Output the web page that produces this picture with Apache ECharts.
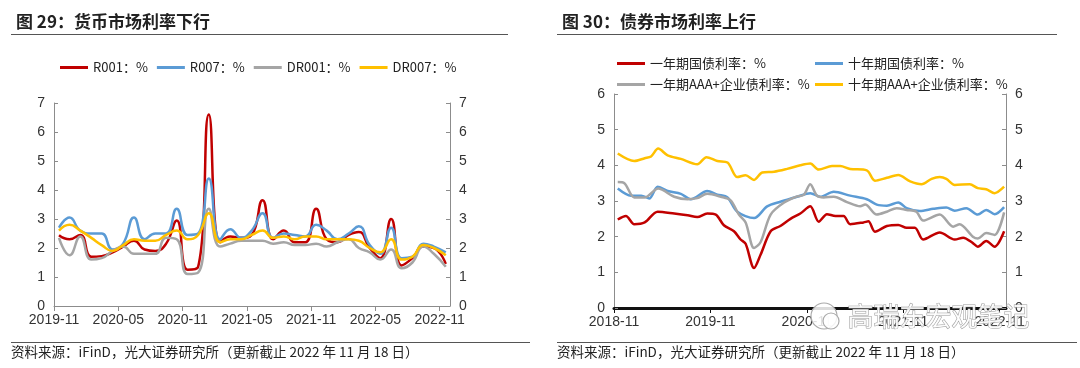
<!DOCTYPE html>
<html>
<head>
<meta charset="utf-8">
<script src="https://cdn.jsdelivr.net/npm/echarts@6/dist/echarts.min.js"></script>
<style>html,body{margin:0;padding:0;background:#fff;}#c{width:1080px;height:368px;}</style>
</head>
<body>
<div id="c"></div>
<script>
// ---------- Left chart: money market rates (monthly) ----------
const leftDates = ['2019-11-15','2019-12-15','2020-01-15','2020-02-15','2020-03-15','2020-04-15','2020-05-15','2020-06-15','2020-07-15','2020-08-15','2020-09-15','2020-10-15','2020-11-15','2020-12-15','2021-01-15','2021-02-15','2021-03-15','2021-04-15','2021-05-15','2021-06-15','2021-07-15','2021-08-15','2021-09-15','2021-10-15','2021-11-15','2021-12-15','2022-01-15','2022-02-15','2022-03-15','2022-04-15','2022-05-15','2022-06-15','2022-07-15','2022-08-15','2022-09-15','2022-10-15','2022-11-18'];
const r001  = [2.44,2.30,2.45,1.70,1.72,1.85,2.05,2.25,1.95,1.90,2.15,2.95,1.25,1.35,6.60,2.20,2.40,2.35,2.45,3.65,2.30,2.60,2.20,2.20,3.35,2.30,2.20,2.45,2.55,2.00,1.65,3.00,1.40,1.65,2.05,2.00,1.45];
const r007  = [2.70,3.05,2.60,2.50,2.50,1.95,2.15,3.05,2.30,2.50,2.50,3.35,2.45,2.50,4.40,2.30,2.65,2.35,2.60,3.20,2.35,2.50,2.45,2.40,2.80,2.60,2.30,2.50,2.75,2.10,1.80,2.70,1.65,1.70,2.15,2.05,1.85];
const dr001 = [2.35,1.75,2.40,1.60,1.65,1.90,2.05,1.80,1.80,1.80,2.35,2.30,1.10,1.15,3.35,2.05,2.15,2.25,2.25,2.25,2.15,2.20,2.10,2.10,2.15,2.05,2.20,2.30,2.00,1.85,1.60,1.95,1.30,1.50,2.05,1.80,1.35];
const dr007 = [2.60,2.80,2.60,2.35,2.10,1.90,2.10,2.30,2.25,2.25,2.45,2.60,2.30,2.45,3.20,2.20,2.30,2.30,2.45,2.60,2.35,2.40,2.30,2.40,2.40,2.30,2.30,2.30,2.25,2.00,1.85,2.30,1.60,1.70,2.10,2.00,1.75];
const leftTickMonths = ['2019-11','2020-05','2020-11','2021-05','2021-11','2022-05','2022-11'];
const leftYTicks = [0,1,2,3,4,5,6,7];

// ---------- Right chart: bond market rates ----------
const gov1y = [['2018-11-15',2.48],['2018-12-16',2.58],['2019-01-17',2.35],['2019-02-24',2.40],['2019-04-14',2.70],['2019-06-16',2.65],['2019-08-06',2.60],['2019-09-12',2.55],['2019-10-20',2.65],['2019-11-21',2.62],['2019-12-22',2.32],['2020-01-30',2.15],['2020-02-23',1.92],['2020-03-13',1.80],['2020-04-14',1.12],['2020-05-09',1.50],['2020-06-16',2.15],['2020-07-23',2.30],['2020-08-31',2.50],['2020-10-07',2.65],['2020-11-14',2.85],['2020-12-16',2.42],['2021-01-17',2.63],['2021-02-17',2.58],['2021-03-19',2.58],['2021-04-13',2.35],['2021-06-03',2.40],['2021-06-21',2.43],['2021-07-16',2.14],['2021-08-31',2.30],['2021-10-13',2.33],['2021-11-14',2.25],['2021-12-15',2.25],['2022-01-16',1.92],['2022-03-18',2.12],['2022-05-14',1.92],['2022-06-15',1.97],['2022-07-22',1.82],['2022-08-10',1.72],['2022-09-11',1.88],['2022-10-13',1.72],['2022-11-18',2.15]];
const gov10y = [['2018-11-15',3.35],['2019-01-05',3.15],['2019-02-12',3.15],['2019-03-13',3.07],['2019-04-14',3.40],['2019-05-22',3.28],['2019-07-11',3.20],['2019-08-18',3.05],['2019-10-20',3.28],['2019-11-27',3.18],['2020-01-05',3.10],['2020-02-11',2.70],['2020-04-14',2.52],['2020-06-03',2.85],['2020-07-23',2.98],['2020-09-25',3.12],['2020-11-14',3.22],['2020-12-22',3.12],['2021-02-11',3.26],['2021-04-13',3.15],['2021-06-15',3.05],['2021-07-23',2.90],['2021-08-31',2.87],['2021-10-13',2.96],['2021-11-14',2.80],['2022-01-03',2.72],['2022-02-22',2.78],['2022-04-12',2.82],['2022-05-14',2.73],['2022-06-27',2.80],['2022-08-10',2.62],['2022-09-11',2.75],['2022-10-13',2.63],['2022-11-18',2.83]];
const aaa1y = [['2018-11-15',3.53],['2018-12-10',3.50],['2019-01-17',3.10],['2019-02-24',3.10],['2019-04-16',3.35],['2019-06-16',3.12],['2019-08-06',3.05],['2019-09-12',3.08],['2019-10-20',3.20],['2019-12-10',3.12],['2020-01-17',3.02],['2020-02-17',2.62],['2020-03-13',2.40],['2020-04-14',1.68],['2020-05-09',1.85],['2020-06-16',2.62],['2020-08-05',2.95],['2020-09-25',3.13],['2020-10-20',3.17],['2020-11-14',3.47],['2020-12-09',3.15],['2021-01-04',3.10],['2021-02-11',3.12],['2021-04-01',2.97],['2021-05-21',2.85],['2021-06-09',2.90],['2021-07-23',2.62],['2021-08-31',2.70],['2021-10-07',2.80],['2021-11-14',2.75],['2021-12-21',2.70],['2022-01-16',2.45],['2022-03-18',2.62],['2022-05-08',2.28],['2022-06-02',2.35],['2022-07-22',2.00],['2022-08-10',1.95],['2022-09-11',2.10],['2022-10-13',2.05],['2022-11-18',2.68]];
const aaa10y = [['2018-11-15',4.33],['2019-01-17',4.12],['2019-02-24',4.20],['2019-03-20',4.25],['2019-04-16',4.47],['2019-05-22',4.28],['2019-07-11',4.18],['2019-09-12',4.03],['2019-10-17',4.23],['2019-11-27',4.12],['2020-01-05',4.08],['2020-02-11',3.67],['2020-03-13',3.72],['2020-04-14',3.59],['2020-05-15',3.80],['2020-06-29',3.82],['2020-08-18',3.90],['2020-10-07',4.00],['2020-11-14',4.05],['2020-12-16',3.88],['2021-02-05',3.98],['2021-03-06',3.98],['2021-04-13',3.90],['2021-06-15',3.86],['2021-07-16',3.57],['2021-08-31',3.65],['2021-10-13',3.73],['2021-11-27',3.55],['2022-01-10',3.47],['2022-02-16',3.62],['2022-03-18',3.67],['2022-04-12',3.62],['2022-05-14',3.45],['2022-07-10',3.47],['2022-08-10',3.36],['2022-09-11',3.33],['2022-10-13',3.22],['2022-11-18',3.40]];
const rightTickMonths = ['2018-11','2019-11','2020-11','2021-11','2022-11'];
const rightYTicks = [0,1,2,3,4,5,6];

// ---------- helpers ----------
const FONT = "'Liberation Sans','Noto Sans CJK SC',sans-serif";
const CJK = "'Noto Sans CJK SC','Liberation Sans',sans-serif";
function monthIndex(dateStr, base) {
  const p = dateStr.split('-').map(Number);
  const b = base.split('-').map(Number);
  const d = p[2] || 1;
  const dim = new Date(p[0], p[1], 0).getDate();
  return (p[0] - b[0]) * 12 + (p[1] - b[1]) + (d - 1) / dim;
}
function labelOf(v, base) {
  const b = base.split('-').map(Number);
  const t = b[1] - 1 + Math.round(v);
  const y = b[0] + Math.floor(t / 12);
  const m = t % 12 + 1;
  return y + '-' + (m < 10 ? '0' + m : m);
}
const LB = '2019-11', RB = '2018-11';
const leftPairs = arr => arr.map((v, i) => [monthIndex(leftDates[i], LB), v]);
const rightPairs = arr => arr.map(p => [monthIndex(p[0], RB), p[1]]);
const leftTicks = leftTickMonths.map(m => monthIndex(m, LB));
const rightTicks = rightTickMonths.map(m => monthIndex(m, RB));

const C = { red: '#C00000', blue: '#5B9BD5', gray: '#A5A5A5', yellow: '#FFC000' };

function xAxisCfg(grid, ticks, base, max, thick) {
  return {
    gridIndex: grid, type: 'value', min: 0, max: max,
    axisLine: { show: true, lineStyle: { color: thick ? '#111' : '#8c8c8c', width: thick ? 3 : 1 } },
    axisTick: { show: true, customValues: ticks, length: 5, lineStyle: { color: thick ? '#111' : '#8c8c8c' } },
    axisLabel: { customValues: ticks, formatter: v => labelOf(v, base), color: '#333', fontSize: 14, fontFamily: FONT, margin: 7 },
    splitLine: { show: false }
  };
}
function yAxisCfg(grid, pos, ticks) {
  return {
    gridIndex: grid, type: 'value', position: pos, min: ticks[0], max: ticks[ticks.length - 1], interval: 1,
    axisLine: { show: true, lineStyle: { color: '#8c8c8c' } },
    axisTick: { show: true, inside: true, length: 4, lineStyle: { color: '#8c8c8c' } },
    axisLabel: { color: '#333', fontSize: 14, fontFamily: FONT, margin: 9 },
    splitLine: { show: false }
  };
}
function line(name, data, color, xi, yi, smooth) {
  return { name, type: 'line', data, xAxisIndex: xi, yAxisIndex: yi, smooth: smooth, showSymbol: false,
    lineStyle: { color, width: 2.5 }, itemStyle: { color }, z: 3 };
}

const legendText = { color: '#222', fontSize: 13, fontFamily: CJK };

const option = {
  animation: false,
  backgroundColor: '#fff',
  title: [
    { text: '图 29：货币市场利率下行', left: 11, top: 8, textStyle: { fontSize: 17, fontWeight: 'bold', color: '#222', fontFamily: CJK } },
    { text: '图 30：债券市场利率上行', left: 557, top: 8, textStyle: { fontSize: 17, fontWeight: 'bold', color: '#222', fontFamily: CJK } }
  ],
  legend: [
    { data: ['R001：%', 'R007：%', 'DR001：%', 'DR007：%'], left: 60, top: 61, padding: 0, icon: 'rect', itemWidth: 28, itemHeight: 3, itemGap: 9, textStyle: legendText },
    { data: ['一年期国债利率：%', '一年期AAA+企业债利率：%'], orient: 'vertical', left: 617, top: 57, padding: 0, icon: 'rect', itemWidth: 28, itemHeight: 3, itemGap: 8, textStyle: legendText },
    { data: ['十年期国债利率：%', '十年期AAA+企业债利率：%'], orient: 'vertical', left: 815, top: 57, padding: 0, icon: 'rect', itemWidth: 28, itemHeight: 3, itemGap: 8, textStyle: legendText }
  ],
  grid: [
    { left: 54, right: 630, top: 103, bottom: 62 },
    { left: 614, right: 74, top: 94, bottom: 60 }
  ],
  xAxis: [
    xAxisCfg(0, leftTicks, LB, 36.96, false),
    xAxisCfg(1, rightTicks, RB, 48.8, true)
  ],
  yAxis: [
    yAxisCfg(0, 'left', leftYTicks), yAxisCfg(0, 'right', leftYTicks),
    yAxisCfg(1, 'left', rightYTicks), yAxisCfg(1, 'right', rightYTicks)
  ],
  series: [
    line('R001：%', leftPairs(r001), C.red, 0, 0, 0.5),
    line('R007：%', leftPairs(r007), C.blue, 0, 0, 0.5),
    line('DR001：%', leftPairs(dr001), C.gray, 0, 0, 0.5),
    line('DR007：%', leftPairs(dr007), C.yellow, 0, 0, 0.5),
    line('一年期国债利率：%', rightPairs(gov1y), C.red, 1, 2, 0.3),
    line('十年期国债利率：%', rightPairs(gov10y), C.blue, 1, 2, 0.3),
    line('一年期AAA+企业债利率：%', rightPairs(aaa1y), C.gray, 1, 2, 0.3),
    line('十年期AAA+企业债利率：%', rightPairs(aaa10y), C.yellow, 1, 2, 0.3)
  ],
  graphic: [
    { type: 'line', shape: { x1: 11, y1: 34.5, x2: 508, y2: 34.5 }, style: { stroke: '#555', lineWidth: 1 } },
    { type: 'line', shape: { x1: 557, y1: 34.5, x2: 1057, y2: 34.5 }, style: { stroke: '#555', lineWidth: 1 } },
    { type: 'line', shape: { x1: 11, y1: 342.5, x2: 530, y2: 342.5 }, style: { stroke: '#555', lineWidth: 1 } },
    { type: 'line', shape: { x1: 557, y1: 342.5, x2: 1077, y2: 342.5 }, style: { stroke: '#555', lineWidth: 1 } },
    { type: 'text', left: 11, top: 345, style: { text: '资料来源：iFinD，光大证券研究所（更新截止 2022 年 11 月 18 日）', fontSize: 13.5, fill: '#222', fontFamily: CJK } },
    { type: 'text', left: 557, top: 345, style: { text: '资料来源：iFinD，光大证券研究所（更新截止 2022 年 11 月 18 日）', fontSize: 13.5, fill: '#222', fontFamily: CJK } },
    // watermark
    { type: 'circle', shape: { cx: 824, cy: 316, r: 13 }, style: { fill: 'rgba(255,255,255,0.85)', stroke: '#aaa', lineWidth: 1.2 }, z: 100 },
    { type: 'circle', shape: { cx: 831, cy: 321, r: 8 }, style: { fill: 'rgba(255,255,255,0.85)', stroke: '#aaa', lineWidth: 1.2 }, z: 100 },
    { type: 'text', left: 847, top: 303, z: 100, style: { text: '高瑞东宏观笔记', fontSize: 26, fill: 'rgba(255,255,255,0.9)', stroke: '#999', lineWidth: 1, fontFamily: CJK } }
  ]
};

const chart = echarts.init(document.getElementById('c'), null, { renderer: 'canvas' });
chart.setOption(option);
</script>
</body>
</html>
